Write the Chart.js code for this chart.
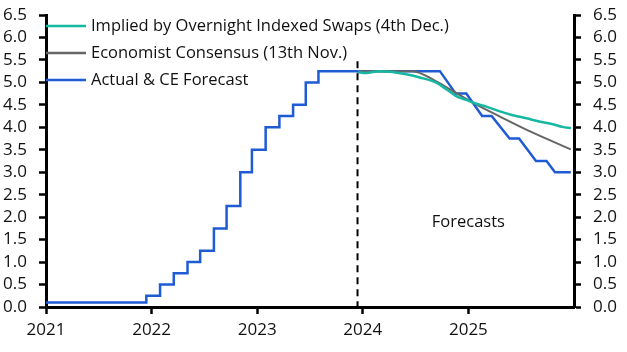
<!DOCTYPE html>
<html>
<head>
<meta charset="utf-8">
<script src="https://cdn.jsdelivr.net/npm/chart.js@4/dist/chart.umd.min.js"></script>
<style>
  html, body { margin: 0; padding: 0; background: #fff; }
  #wrap { width: 627px; height: 352px; }
</style>
</head>
<body>
<div id="wrap"><canvas id="c" width="627" height="352"></canvas></div>
<script>
// ---- Data (dates as fractional years) ----
const actualDates = [2021.0, 2021.95, 2022.08, 2022.21, 2022.34, 2022.46, 2022.59, 2022.71, 2022.84, 2022.95, 2023.08, 2023.21, 2023.34, 2023.46, 2023.58, 2023.96];
const actualRates = [0.1, 0.25, 0.5, 0.75, 1.0, 1.25, 1.75, 2.25, 3.0, 3.5, 4.0, 4.25, 4.5, 5.0, 5.25, 5.25];

const ceDates = [2023.96, 2024.73, 2024.88, 2024.98, 2025.13, 2025.22, 2025.39, 2025.48, 2025.64, 2025.74, 2025.82, 2025.97];
const ceRates = [5.25, 5.25, 4.75, 4.75, 4.25, 4.25, 3.75, 3.75, 3.25, 3.25, 3.0, 3.0];

const oisDates = [2023.95, 2024.03, 2024.16, 2024.28, 2024.41, 2024.54, 2024.69, 2024.79, 2024.88, 2024.98, 2025.07, 2025.17, 2025.29, 2025.42, 2025.55, 2025.67, 2025.80, 2025.89, 2025.97];
const oisRates = [5.23, 5.21, 5.25, 5.23, 5.18, 5.11, 5.00, 4.85, 4.70, 4.61, 4.53, 4.46, 4.36, 4.27, 4.20, 4.13, 4.07, 4.01, 3.98];

const consDates = [2023.96, 2024.47, 2024.69, 2024.88, 2025.04, 2025.29, 2025.61, 2025.97];
const consRates = [5.25, 5.25, 5.03, 4.77, 4.55, 4.25, 3.88, 3.51];

const yearTicks = [2021, 2022, 2023, 2024, 2025];
const forecastStart = 2023.95;

const seriesNames = ["Implied by Overnight Indexed Swaps (4th Dec.)", "Economist Consensus (13th Nov.)", "Actual & CE Forecast"];
const seriesColors = ["#17b8a2", "#666666", "#1f5bd3"];

const FONT = "'Open Sans', sans-serif";
const FS = 17;
const LFS = 16.5;

function pts(xs, ys) { return xs.map((x, i) => ({ x: x, y: ys[i] })); }

const extras = {
  id: 'extras',
  afterDatasetsDraw(chart) {
    const { ctx, scales: { x, y } } = chart;
    ctx.save();
    // dashed forecast divider
    ctx.strokeStyle = '#000';
    ctx.lineWidth = 2;
    ctx.setLineDash([7, 5]);
    ctx.beginPath();
    ctx.moveTo(x.getPixelForValue(forecastStart), y.getPixelForValue(5.47));
    ctx.lineTo(x.getPixelForValue(forecastStart), y.getPixelForValue(0));
    ctx.stroke();
    ctx.setLineDash([]);
    // Forecasts label
    ctx.fillStyle = '#111';
    ctx.font = LFS + 'px ' + FONT;
    ctx.textAlign = 'center';
    ctx.textBaseline = 'middle';
    ctx.fillText('Forecasts', x.getPixelForValue(2025.0), y.getPixelForValue(1.88));
    // legend
    const left = chart.chartArea.left;
    const rows = [26, 53, 80];
    ctx.textAlign = 'left';
    for (let i = 0; i < 3; i++) {
      ctx.strokeStyle = seriesColors[i];
      ctx.lineWidth = 2.5;
      ctx.beginPath();
      ctx.moveTo(left, rows[i]);
      ctx.lineTo(left + 40, rows[i]);
      ctx.stroke();
      ctx.fillStyle = '#111';
      ctx.fillText(seriesNames[i], left + 45, rows[i]);
    }
    ctx.restore();
  }
};

const yCommon = {
  type: 'linear',
  min: 0, max: 6.5,
  ticks: { stepSize: 0.5, autoSkip: false, padding: 12, color: '#111', font: { family: FONT, size: FS }, callback: v => v.toFixed(1) },
  grid: { display: true, drawOnChartArea: false, drawTicks: true, tickLength: 7, tickColor: '#000', tickWidth: 2.5 },
  border: { display: true, color: '#000', width: 3 }
};

function fitY(w) {
  return s => { s.width = w; s.paddingTop = 0; s.paddingBottom = 0; };
}

new Chart(document.getElementById('c'), {
  type: 'line',
  data: {
    datasets: [
      { label: 'ce', data: pts(ceDates, ceRates), borderColor: seriesColors[2], borderWidth: 2.5, pointRadius: 0, tension: 0, order: 3 },
      { label: seriesNames[1], data: pts(consDates, consRates), borderColor: seriesColors[1], borderWidth: 2, pointRadius: 0, tension: 0.3, cubicInterpolationMode: 'monotone', order: 2 },
      { label: seriesNames[0], data: pts(oisDates, oisRates), borderColor: seriesColors[0], borderWidth: 2.5, pointRadius: 0, cubicInterpolationMode: 'monotone', order: 1 },
      { label: seriesNames[2], data: pts(actualDates, actualRates), borderColor: seriesColors[2], borderWidth: 2.5, pointRadius: 0, stepped: 'before', order: 0 }
    ]
  },
  options: {
    responsive: false,
    animation: false,
    layout: { padding: { top: 15, bottom: 0, left: 0, right: 0 } },
    plugins: { legend: { display: false }, tooltip: { enabled: false } },
    scales: {
      x: {
        type: 'linear', min: 2021, max: 2026,
        afterBuildTicks: s => { s.ticks = yearTicks.map(v => ({ value: v })); },
        afterFit: s => { s.height = 45; s.paddingLeft = 0; s.paddingRight = 0; },
        ticks: { padding: 6, color: '#111', font: { family: FONT, size: FS }, callback: v => String(v), maxRotation: 0, autoSkip: false },
        grid: { display: true, drawOnChartArea: false, drawTicks: true, tickLength: 7, tickColor: '#000', tickWidth: 2.5 },
        border: { display: true, color: '#000', width: 3 }
      },
      y: Object.assign({}, yCommon, { position: 'left', afterFit: fitY(46) }),
      y2: Object.assign({}, yCommon, { position: 'right', afterFit: fitY(53) })
    }
  },
  plugins: [extras]
});
</script>
</body>
</html>
